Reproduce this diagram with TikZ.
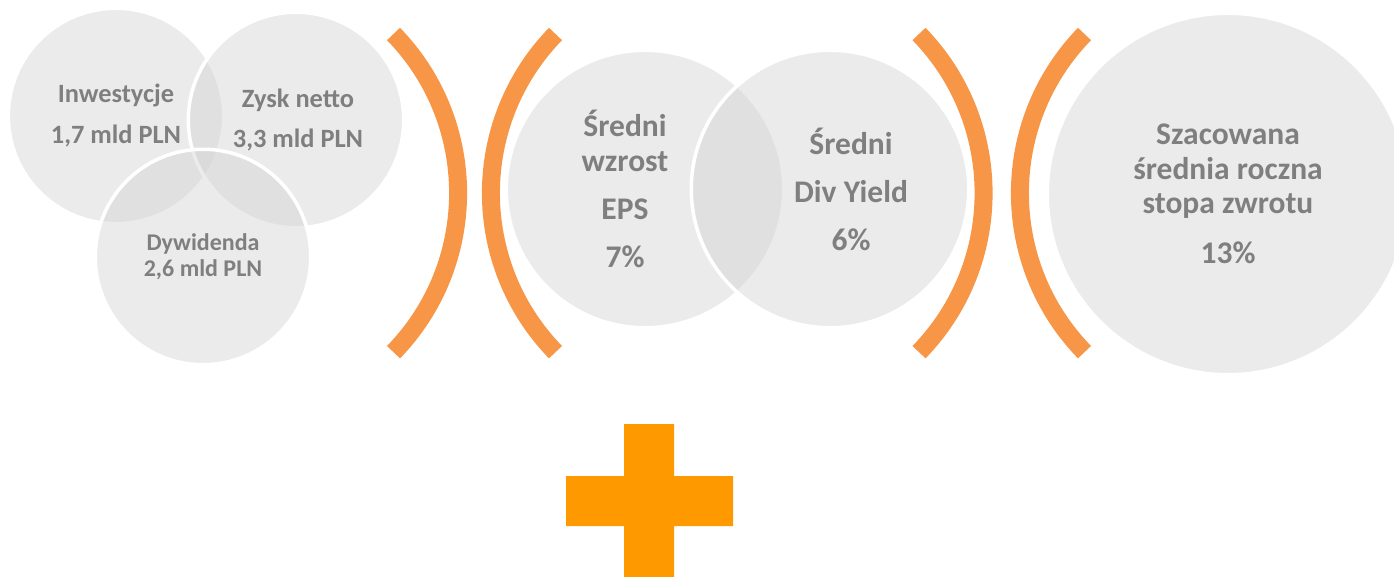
\documentclass[tikz,border=0pt]{standalone}
\usepackage{fontspec}
\setmainfont{Carlito}
\usepackage{xcolor}
\usepackage{tikz}
\usetikzlibrary{positioning}
\definecolor{bubblegray}{HTML}{D3D3D3}
\definecolor{textgray}{HTML}{7F7F7F}
\definecolor{arcorange}{HTML}{F79646}
\definecolor{plusorange}{HTML}{FF9900}

\begin{document}
\begin{tikzpicture}[x=1pt, y=1pt,
    bubble/.style={circle, draw=white, line width=3.5pt, fill=bubblegray,
        fill opacity=0.45, text opacity=1, inner sep=0pt},
    txt/.style={text=textgray, align=center, inner sep=0pt},
    small/.style={font=\fontsize{26.4}{32}\selectfont\bfseries},
    big/.style={font=\fontsize{31.5}{34.5}\selectfont\bfseries},
    paren/.style={draw=arcorange, line width=18pt}]
\clip (0,0) rectangle (1394,576);
\node[bubble, minimum size=215.5pt] (inw) at (116,460) {};
\node[bubble, minimum size=215.5pt] (zysk) at (296,456) {};
\node[bubble, minimum size=215.5pt] (dyw) at (203,319) {};
\node[bubble, minimum size=277.5pt] (eps) at (645,387) {};
\node[bubble, minimum size=277.5pt] (yield) at (830,387) {};
\node[bubble, minimum size=361.5pt] (zwrot) at (1228,382) {};

\node[txt, small] (inwtxt) at (inw) {Inwestycje\\[9pt]1,7 mld PLN};
\node[txt, small] (zysktxt) at ([xshift=2pt]zysk.center) {Zysk netto\\[8pt]3,3 mld PLN};
\node[txt, font=\fontsize{24}{26}\selectfont\bfseries] (dywtxt) at (dyw) {Dywidenda\\2,6 mld PLN};
\node[txt, big] (epstxt) at ([xshift=-20pt]eps.center) {Średni\\wzrost\\[13.5pt]EPS\\[13.5pt]7\%};
\node[txt, big] (yieldtxt) at ([xshift=21pt]yield.center) {Średni\\[13.5pt]Div Yield\\[13.5pt]6\%};
\node[txt, big] (zwrottxt) at (zwrot) {Szacowana\\średnia roczna\\stopa zwrotu\\[15.5pt]13\%};

\draw[paren] (393.5,542) arc[start angle=44.2, end angle=-44.2, radius=228.2];
\draw[paren] (555.5,542) arc[start angle=135.8, end angle=224.2, radius=228.2];
\draw[paren] (919,542) arc[start angle=44.2, end angle=-44.2, radius=228.2];
\draw[paren] (1084.5,542) arc[start angle=135.8, end angle=224.2, radius=228.2];

\fill[plusorange] (624,-10) rectangle (674,152) (566,50) rectangle (733,100);
\end{tikzpicture}
\end{document}
